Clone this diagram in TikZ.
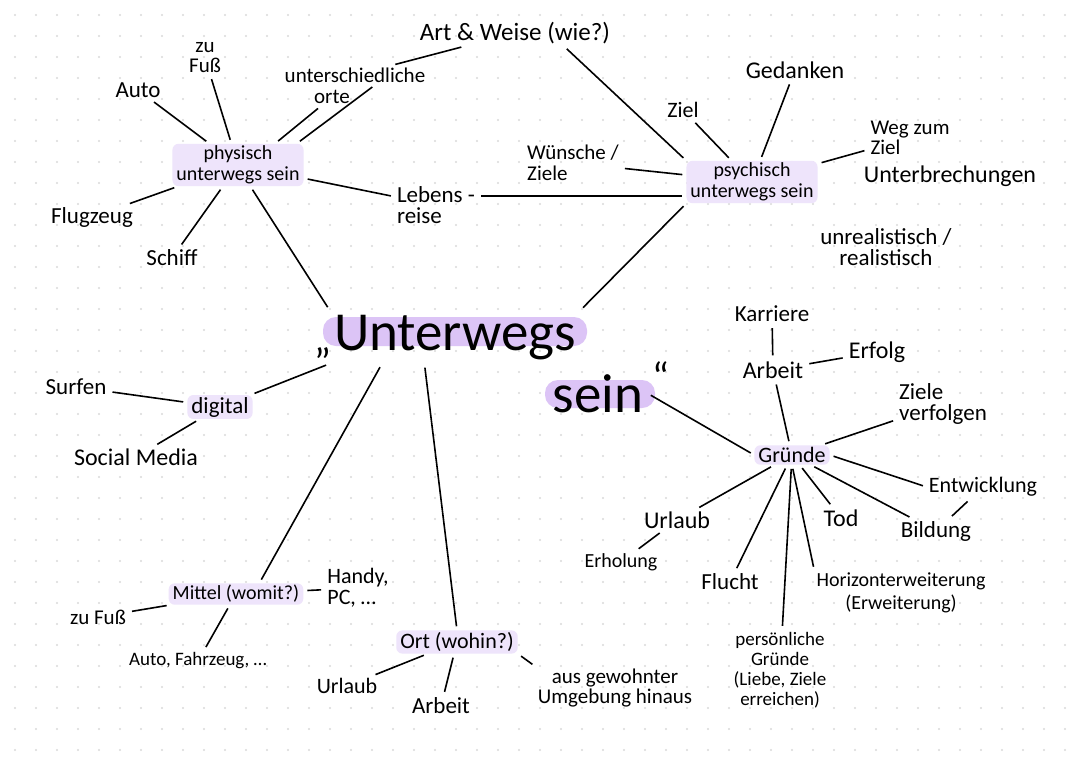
\documentclass[tikz,border=0pt]{standalone}
\usepackage{fontspec}
\setmainfont{Carlito}
\usetikzlibrary{positioning}
\definecolor{hlmain}{HTML}{DCC4F6}
\definecolor{hlsoft}{HTML}{EEE4FB}
\definecolor{dotgrey}{HTML}{DADADA}
\newcommand{\fs}[2]{\fontsize{#1}{#2}\selectfont}

\begin{document}
\begin{tikzpicture}[x=1pt, y=-1pt,
    lbl/.style={font=\fs{23}{21}, inner sep=2pt, align=center},
    sm/.style={lbl, font=\fs{20}{21}},
    hl/.style={fill=hlsoft, rounded corners=6pt, inner xsep=4pt},
    core/.style={font=\fs{55}{55}, inner sep=4pt, anchor=base},
    link/.style={line width=1.6pt, shorten <=4pt, shorten >=4pt},
]

% Paper with dot grid
\fill[white] (0,0) rectangle (1080,764);
\useasboundingbox (0,0) rectangle (1080,764);
\foreach \gx in {0,...,50} {
  \foreach \gy in {0,...,35} {
    \fill[dotgrey] (15+21*\gx, 15+21*\gy) circle (1.1pt);
  }
}

% --- Centre ---
\fill[hlmain, rounded corners=13pt] (323,317) rectangle (587,346);
\fill[hlmain, rounded corners=13pt] (545,380) rectangle (655,408);
\node[core] (unt) at (455,350) {Unterwegs};
\node[core] (sein) at (598,412) {sein};
\node[font=\fs{40}{40}, anchor=base, inner sep=0pt] (quoteL) at (323,352) {„};
\node[font=\fs{40}{40}, anchor=base, inner sep=0pt] (quoteR) at (661,390) {“};

% --- physisch unterwegs sein ---
\node[sm, hl] (phys) at (238,165) {physisch\\unterwegs sein};
\node[lbl, font=\fs{21}{20}] (fuss) at (205,58) {zu\\Fuß};
\node[lbl] (auto) at (138,90) {Auto};
\node[lbl, font=\fs{21}{21}] (orteA) at (355,75) {unterschiedliche};
\node[lbl, font=\fs{21}{21}] (orteB) at (332,97) {orte};
\node[lbl] (flug) at (92,217) {Flugzeug};
\node[lbl] (schiff) at (172,258) {Schiff};
\node[lbl, align=left] (lebens) at (436,205) {Lebens -\\reise};

\draw[link] (phys) -- (auto);
\draw[link] (phys) -- (fuss);
\draw[link] (phys.30) -- (orteB);
\draw[link] (phys.20) -- (orteA.-25);
\draw[link] (phys) -- (flug);
\draw[link] (phys) -- (schiff);
\draw[link] (phys) -- (lebens);
\draw[link] (phys.-60) -- (unt.north west);

% --- psychisch unterwegs sein ---
\node[lbl, font=\fs{25}{25}] (art) at (515,33) {Art \& Weise (wie?)};
\node[sm, hl] (psych) at (752,182) {psychisch\\unterwegs sein};
\node[lbl, font=\fs{22}{22}] (ziel) at (683,110) {Ziel};
\node[lbl, font=\fs{21}{21}, align=left] (wunsch) at (573,163) {Wünsche /\\Ziele};
\node[lbl, font=\fs{24}{24}] (gedanken) at (795,70) {Gedanken};
\node[lbl, font=\fs{21}{20}, align=left] (weg) at (910,138) {Weg zum\\Ziel};
\node[lbl, font=\fs{24}{24}] (unterbr) at (950,176) {Unterbrechungen};
\node[lbl] (unreal) at (886,247) {unrealistisch /\\realistisch};

\draw[link] (orteA) -- (art);
\draw[link] (art.-15) -- (psych.north west);
\draw[link] (ziel) -- (psych);
\draw[link] (gedanken) -- (psych);
\draw[link] (wunsch) -- (psych);
\draw[link] (psych) -- (weg);
\draw[link] (lebens.12) -- (lebens.12 -| psych.west);
\draw[link] (psych.south west) -- (unt.north east);

% --- digital ---
\node[lbl, hl] (digital) at (220,407) {digital};
\node[lbl] (surfen) at (76,387) {Surfen};
\node[lbl, font=\fs{24}{24}] (social) at (136,457) {Social Media};

\draw[link] (digital) -- (surfen);
\draw[link] (digital) -- (social);
\draw[link] (digital) -- (unt.south west);

% --- Mittel ---
\node[sm, hl] (mittel) at (236,594) {Mittel (womit?)};
\node[lbl, font=\fs{22}{21}, align=left] (handy) at (358,588) {Handy,\\PC, …};
\node[lbl, font=\fs{21}{21}] (fussB) at (98,617) {zu Fuß};
\node[lbl, font=\fs{19}{19}] (fahrzeug) at (198,661) {Auto, Fahrzeug, …};

\draw[link] (mittel.25) -- (unt.-160);
\draw[link] (mittel) -- (handy);
\draw[link] (mittel) -- (fussB);
\draw[link] (mittel) -- (fahrzeug);

% --- Ort ---
\node[lbl, font=\fs{22}{22}, hl] (ort) at (457,642) {Ort (wohin?)};
\node[lbl, font=\fs{22}{22}] (urlaubL) at (347,686) {Urlaub};
\node[lbl] (arbeitL) at (441,706) {Arbeit};
\node[lbl, font=\fs{21}{20}] (umgebung) at (615,688) {aus gewohnter\\Umgebung hinaus};

\draw[link] (ort.north) -- (unt.-139);
\draw[link] (ort) -- (urlaubL);
\draw[link] (ort) -- (arbeitL);
\draw[link] (ort.south east) -- (umgebung.north west);

% --- Gründe ---
\node[lbl, font=\fs{22}{22}, hl] (gruende) at (792,455) {Gründe};
\node[lbl] (karriere) at (772,314) {Karriere};
\node[lbl, font=\fs{24}{24}] (arbeitR) at (773,370) {Arbeit};
\node[lbl, font=\fs{24}{24}] (erfolg) at (877,352) {Erfolg};
\node[lbl, align=left] (zieleR) at (943,404) {Ziele\\verfolgen};
\node[lbl, font=\fs{22}{22}] (entw) at (983,487) {Entwicklung};
\node[lbl] (bildung) at (936,531) {Bildung};
\node[lbl, font=\fs{24}{24}] (tod) at (841,518) {Tod};
\node[lbl, font=\fs{24}{24}] (urlaubR) at (677,520) {Urlaub};
\node[sm] (erholung) at (621,562) {Erholung};
\node[lbl] (flucht) at (730,582) {Flucht};
\node[lbl, font=\fs{20}{23}] (horiz) at (901,593) {Horizonterweiterung\\(Erweiterung)};
\node[lbl, font=\fs{19}{20}] (persoenl) at (780,670) {persönliche\\Gründe\\(Liebe, Ziele\\erreichen)};

\draw[link] (sein.east) -- (gruende.west);
\draw[link] (gruende) -- (arbeitR);
\draw[link] (arbeitR) -- (karriere);
\draw[link] (arbeitR) -- (erfolg);
\draw[link] (gruende) -- (zieleR);
\draw[link] (gruende.east) -- (entw.west);
\draw[link] (entw) -- (bildung);
\draw[link] (gruende) -- (bildung);
\draw[link] (gruende) -- (tod);
\draw[link] (gruende.south) -- (horiz.north west);
\draw[link] (gruende) -- (persoenl);
\draw[link] (gruende) -- (flucht);
\draw[link] (gruende) -- (urlaubR);
\draw[link] (urlaubR) -- (erholung);

\end{tikzpicture}
\end{document}
